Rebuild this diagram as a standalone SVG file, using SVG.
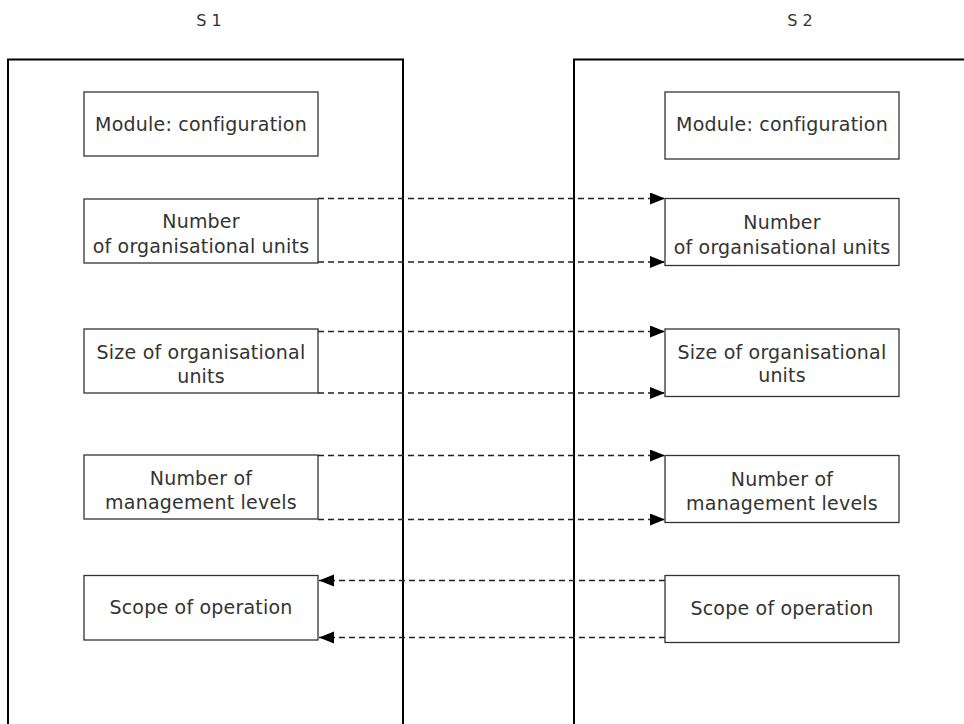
<svg xmlns="http://www.w3.org/2000/svg" width="964" height="724" viewBox="0 0 964 724">
<defs>
<style>
.frame{fill:none;stroke:#000;stroke-width:2}
.box{fill:#fff;stroke:#333;stroke-width:1.3}
.t{font-family:"DejaVu Sans",sans-serif;font-size:19px;fill:#333;text-anchor:middle;letter-spacing:0.2px}
.lbl{font-family:"DejaVu Sans",sans-serif;font-size:16px;fill:#333;text-anchor:middle}
.c{fill:none;stroke:#222;stroke-width:1.4;stroke-dasharray:6 4}
</style>
<marker id="ah" markerUnits="userSpaceOnUse" markerWidth="16" markerHeight="13" refX="15" refY="6" orient="auto">
<path d="M0,0 L15,6 L0,12 Z" fill="#000" stroke="none"/>
</marker>
</defs>
<rect width="964" height="724" fill="#fff"/>
<g id="s1">
<text class="lbl" x="209" y="26">S 1</text>
<path class="frame" d="M8,724 V59.5 H403 V724"/>
</g>
<g id="s2">
<text class="lbl" x="800" y="26">S 2</text>
<path class="frame" d="M574,724 V59.5 H966"/>
</g>
<g id="connectors">
<line class="c" x1="318" y1="198.5" x2="665" y2="198.5" marker-end="url(#ah)"/>
<line class="c" x1="318" y1="262" x2="665" y2="262" marker-end="url(#ah)"/>
<line class="c" x1="318" y1="331.5" x2="665" y2="331.5" marker-end="url(#ah)"/>
<line class="c" x1="318" y1="393" x2="665" y2="393" marker-end="url(#ah)"/>
<line class="c" x1="318" y1="455.5" x2="665" y2="455.5" marker-end="url(#ah)"/>
<line class="c" x1="318" y1="519.5" x2="665" y2="519.5" marker-end="url(#ah)"/>
<line class="c" x1="665" y1="580.5" x2="319" y2="580.5" marker-end="url(#ah)"/>
<line class="c" x1="665" y1="637.5" x2="319" y2="637.5" marker-end="url(#ah)"/>
</g>
<g id="l-module"><rect class="box" x="84" y="92" width="234" height="64"/><text class="t" x="201" y="131">Module: configuration</text></g>
<g id="l-number"><rect class="box" x="84" y="199" width="234" height="64"/><text class="t" x="201" y="228">Number</text><text class="t" x="201" y="253">of organisational units</text></g>
<g id="l-size"><rect class="box" x="84" y="329" width="234" height="64"/><text class="t" x="201" y="358.5">Size of organisational</text><text class="t" x="201" y="382.5">units</text></g>
<g id="l-mgmt"><rect class="box" x="84" y="455" width="234" height="64"/><text class="t" x="201" y="485">Number of</text><text class="t" x="201" y="509">management levels</text></g>
<g id="l-scope"><rect class="box" x="84" y="575.5" width="234" height="64.5"/><text class="t" x="201" y="614">Scope of operation</text></g>
<g id="r-module"><rect class="box" x="665" y="92" width="234" height="67"/><text class="t" x="782" y="131">Module: configuration</text></g>
<g id="r-number"><rect class="box" x="665" y="198.5" width="234" height="67"/><text class="t" x="782" y="228.5">Number</text><text class="t" x="782" y="254">of organisational units</text></g>
<g id="r-size"><rect class="box" x="665" y="329" width="234" height="67.5"/><text class="t" x="782" y="359">Size of organisational</text><text class="t" x="782" y="382">units</text></g>
<g id="r-mgmt"><rect class="box" x="665" y="455.5" width="234" height="67"/><text class="t" x="782" y="485.5">Number of</text><text class="t" x="782" y="510">management levels</text></g>
<g id="r-scope"><rect class="box" x="665" y="575.5" width="234" height="67"/><text class="t" x="782" y="615">Scope of operation</text></g>
</svg>
